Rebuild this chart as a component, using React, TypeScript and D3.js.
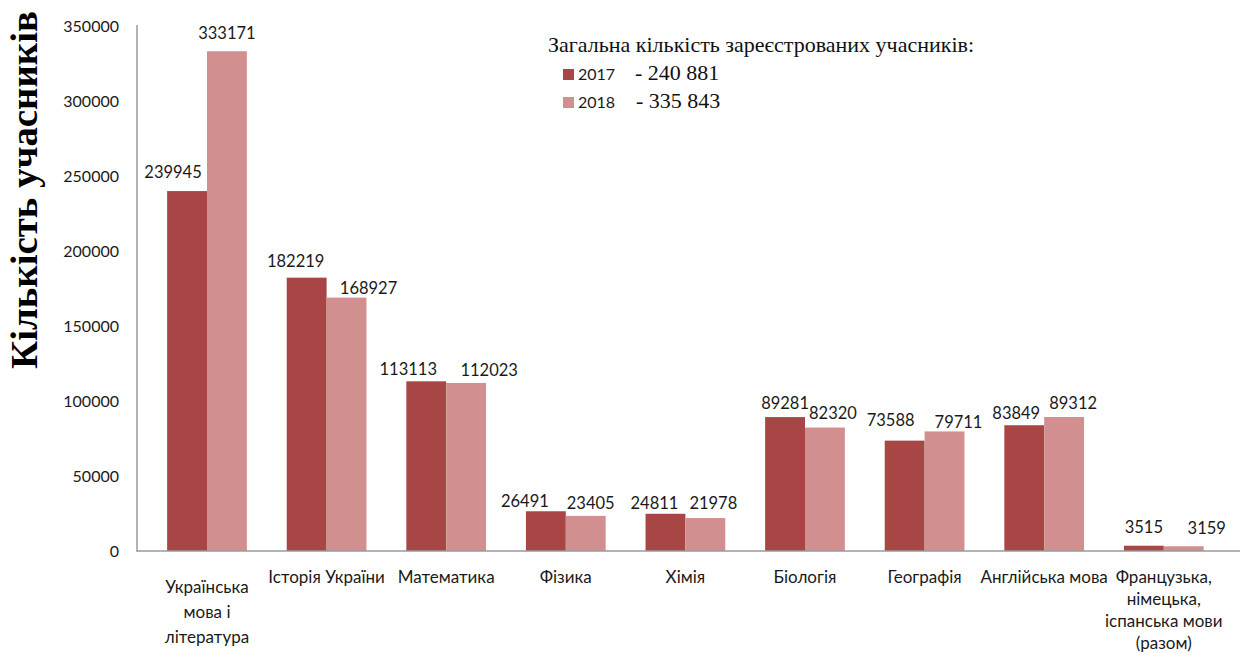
import React from "react";
import * as d3 from "d3";

const categories = [
  "Українська мова і література",
  "Історія України",
  "Математика",
  "Фізика",
  "Хімія",
  "Біологія",
  "Географія",
  "Англійська мова",
  "Французька, німецька, іспанська мови (разом)",
];
const categoryLines = [
  ["Українська", "мова і", "література"],
  ["Історія України"],
  ["Математика"],
  ["Фізика"],
  ["Хімія"],
  ["Біологія"],
  ["Географія"],
  ["Англійська мова"],
  ["Французька,", "німецька,", "іспанська мови", "(разом)"],
];
const values2017 = [239945, 182219, 113113, 26491, 24811, 89281, 73588, 83849, 3515];
const values2018 = [333171, 168927, 112023, 23405, 21978, 82320, 79711, 89312, 3159];
const yTicks = [0, 50000, 100000, 150000, 200000, 250000, 300000, 350000];
const seriesNames = ["2017", "2018"];
const seriesTotals = ["- 240 881", "- 335 843"];
const legendTitle = "Загальна кількість зареєстрованих учасників:";
const axisTitle = "Кількість учасників";

// manual data-label nudges (dx, dy from bar centre / bar top), as placed in the original
const labelNudge2017 = [[-14, -13], [-11, -11], [-18, -6], [-21, -4], [-11, -5], [0, -8], [-14, -15], [-8, -6], [0, -13]];
const labelNudge2018 = [[0, -12], [22, -4], [23, -7], [5, -7], [8, -9], [8, -9], [14, -3], [9, -8], [23, -12]];
const categoryLabelDy = [10, 0, 0, 0, 0, 0, 0, 0, 0];
const categoryLineGap = [25, 23, 23, 23, 23, 23, 23, 23, 22];

const colors = ["#A84646", "#D28F8F"];
const sans = "Lato, 'Open Sans', sans-serif";
const serif = "'Liberation Serif', 'DejaVu Serif', serif";

export default function App() {
  const W = 1250;
  const H = 653;
  const x = d3.scaleBand<string>().domain(categories).range([147.2, 1223.6]).padding(0);
  const y = d3.scaleLinear().domain([0, 350000]).range([551, 26]);
  const bw = x.bandwidth() / 3;
  const series = [values2017, values2018];
  const nudges = [labelNudge2017, labelNudge2018];

  return (
    <svg
      width={W}
      height={H}
      style={{ position: "absolute", left: 0, top: 0, background: "#fff" }}
    >
      <rect x={0} y={0} width={W} height={H} fill="#fff" />
      {/* y axis title */}
      <text
        transform={`translate(37,190) rotate(-90)`}
        textAnchor="middle"
        fontFamily={serif}
        fontWeight="bold"
        fontSize={37}
        textLength={358}
        lengthAdjust="spacingAndGlyphs"
        fill="#000"
      >
        {axisTitle}
      </text>
      {/* y tick labels */}
      {yTicks.map((t) => (
        <text
          key={t}
          x={119}
          y={y(t)}
          dy="0.36em"
          textAnchor="end"
          fontFamily={sans}
          fontSize={16}
          fill="#1a1a1a"
        >
          {t}
        </text>
      ))}
      {/* bars */}
      {series.map((vals, s) =>
        vals.map((v, i) => {
          const bx = (x(categories[i]) as number) + bw / 2 + s * bw;
          return (
            <rect
              key={`b${s}-${i}`}
              x={bx}
              y={y(v)}
              width={bw}
              height={y(0) - y(v)}
              fill={colors[s]}
            />
          );
        })
      )}
      {/* axes */}
      <line x1={137} x2={137} y1={25} y2={551.5} stroke="#9a9a9a" strokeWidth={1.5} />
      <line x1={136.5} x2={1240} y1={551} y2={551} stroke="#9a9a9a" strokeWidth={1.5} />
      {/* data labels */}
      {series.map((vals, s) =>
        vals.map((v, i) => {
          const cx = (x(categories[i]) as number) + bw / 2 + s * bw + bw / 2;
          const [dx, dy] = nudges[s][i];
          return (
            <text
              key={`l${s}-${i}`}
              x={cx + dx}
              y={y(v) + dy}
              textAnchor="middle"
              fontFamily={sans}
              fontSize={16.5}
              fill="#1a1a1a"
            >
              {v}
            </text>
          );
        })
      )}
      {/* category labels */}
      {categories.map((c, i) => {
        const cx = (x(c) as number) + x.bandwidth() / 2;
        return (
          <text
            key={`c${i}`}
            textAnchor="middle"
            fontFamily={sans}
            fontSize={17}
            fill="#1a1a1a"
          >
            {categoryLines[i].map((ln, k) => (
              <tspan key={k} x={cx} y={583 + categoryLabelDy[i] + k * categoryLineGap[i]}>
                {ln}
              </tspan>
            ))}
          </text>
        );
      })}
      {/* legend */}
      <text x={548} y={52} fontFamily={serif} fontSize={22} fill="#111">
        {legendTitle}
      </text>
      {seriesNames.map((n, s) => (
        <g key={n}>
          <rect x={563} y={69 + s * 28} width={11} height={11} fill={colors[s]} />
          <text x={578} y={80 + s * 28} fontFamily={sans} fontSize={16} fill="#1a1a1a">
            {n}
          </text>
          <text x={635 + s} y={80 + s * 28} fontFamily={serif} fontSize={22} fill="#111">
            {seriesTotals[s]}
          </text>
        </g>
      ))}
    </svg>
  );
}
